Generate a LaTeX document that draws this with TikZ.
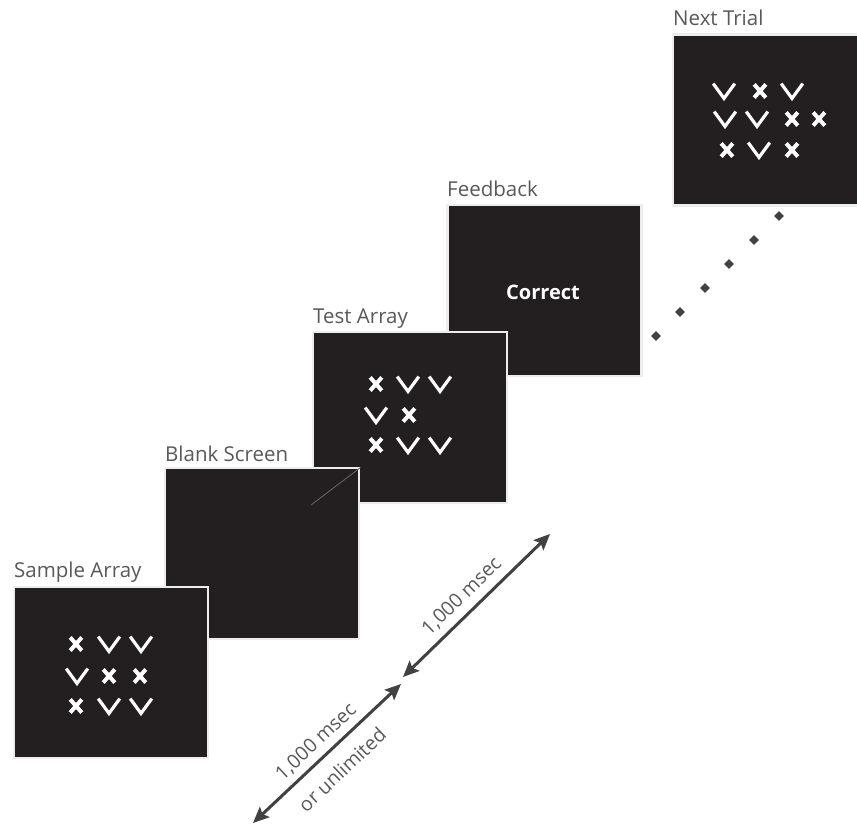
\documentclass[tikz,border=0pt]{standalone}
\usepackage{fontspec}
\setmainfont{Open Sans}
\usetikzlibrary{arrows.meta,shapes.geometric}
\definecolor{panelc}{HTML}{231F20}
\definecolor{labc}{HTML}{58595B}
\definecolor{arrc}{HTML}{414042}
\tikzset{
  panel/.style={fill=panelc, draw=black!7, line width=2.5pt, minimum width=194pt, minimum height=171pt, inner sep=0pt, outer sep=0pt},
  plabel/.style={anchor=base west, text=labc, font=\fontsize{20.5}{24}\selectfont, inner sep=0pt},
  alabel/.style={text=labc, font=\fontsize{19.5}{23}\selectfont, inner sep=0pt, sloped},
  timearrow/.style={draw=arrc, line width=3pt, {Stealth[length=16pt,width=14pt,inset=3pt]}-{Stealth[length=16pt,width=14pt,inset=3pt]}},
  dot/.style={diamond, fill=arrc, minimum size=10pt, inner sep=0pt},
  xs/.pic={\draw[white, line width=4pt] (-5.8,-6.6)--(5.8,6.6) (-5.8,6.6)--(5.8,-6.6);},
  vs/.pic={\draw[white, line width=3.2pt, line join=miter] (-10.8,-7.4)--(0,7.4)--(10.8,-7.4);}
}
\begin{document}
\begin{tikzpicture}[x=1pt,y=-1pt]
\clip (0,0) rectangle (857,826);
\fill[white] (0,0) rectangle (857,826);

% panels, back to front
\node[panel] (next) at (770,120) {};
\node[panel] (feedback) at (544.5,290.5) {};
\node[panel] (test) at (410,417.5) {};
\node[panel] (blank) at (262,553.5) {};
\node[panel] (sample) at (111,672.5) {};

% panel titles
\node[plabel] (tnext) at (673,26) {Next Trial};
\node[plabel] (tfeed) at (447,197) {Feedback};
\node[plabel] (ttest) at (313,324) {Test Array};
\node[plabel] (tblank) at (165,461) {Blank Screen};
\node[plabel] (tsample) at (14,577) {Sample Array};

% thin line in blank screen
\coordinate (bl1) at (360.5,467.5);
\coordinate (bl2) at (311,505);
\draw[black!60, line width=0.8pt] (bl1) -- (bl2);

% feedback text
\node[text=white, font=\bfseries\fontsize{20}{24}\selectfont] (correct) at (543,292) {Correct};

% sample array symbols
\pic at (76,644) {xs}; \pic at (109,644) {vs}; \pic at (141,644) {vs};
\pic at (77,676) {vs}; \pic at (109,676) {xs}; \pic at (140,676) {xs};
\pic at (76,706) {xs}; \pic at (109,706) {vs}; \pic at (141,706) {vs};

% test array symbols
\pic at (376,384) {xs}; \pic at (408,384) {vs}; \pic at (440,384) {vs};
\pic at (376,415) {vs}; \pic at (409,415) {xs};
\pic at (376,445) {xs}; \pic at (408,445) {vs}; \pic at (440,445) {vs};

% next trial symbols
\pic at (724,91) {vs}; \pic at (760,91) {xs}; \pic at (792,91) {vs};
\pic at (725,119) {vs}; \pic at (757,119) {vs}; \pic at (792,119) {xs}; \pic at (819,119) {xs};
\pic at (727,150) {xs}; \pic at (759,150) {vs}; \pic at (792,150) {xs};

% dots
\node[dot] (d1) at (656,336) {};
\node[dot] (d2) at (680,312) {};
\node[dot] (d3) at (705,288) {};
\node[dot] (d4) at (729,264) {};
\node[dot] (d5) at (754,240) {};
\node[dot] (d6) at (779,216) {};

% time arrows
\coordinate (a1s) at (403,677);
\coordinate (a1e) at (550,534);
\coordinate (a2s) at (253,823);
\coordinate (a2e) at (401,684);
\draw[timearrow] (a1s) -- node[alabel, above=7pt, pos=0.48] (l1) {1,000 msec} (a1e);
\draw[timearrow] (a2s) -- node[alabel, above=6pt, pos=0.5] (l2) {1,000 msec}
                           node[alabel, below=13pt, pos=0.5] (l3) {or unlimited} (a2e);
\end{tikzpicture}
\end{document}
